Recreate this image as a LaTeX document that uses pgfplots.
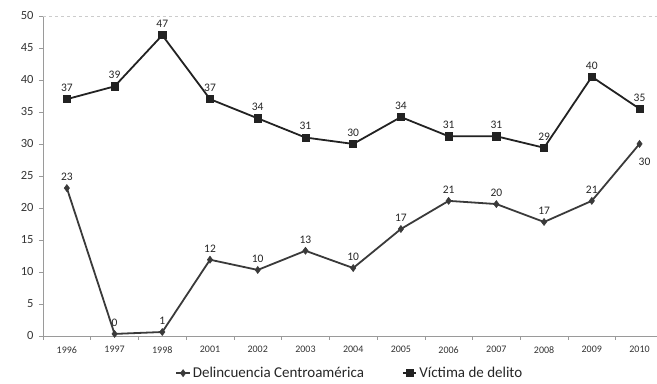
\documentclass[border=0pt]{standalone}
\usepackage{pgfplots}
\pgfplotsset{compat=1.18}
\usepackage{pgfplotstable}
\usepackage{fontspec}
\setmainfont{Carlito}

\definecolor{linedark}{HTML}{222222}
\definecolor{linegray}{HTML}{3A3A3A}
\definecolor{axisgray}{HTML}{9A9A9A}

% x = category index (0 = 1996 ... 12 = 2010)
\pgfplotstableread{
x y lab
0 23.1 23
1 0.3 0
2 0.6 1
3 11.9 12
4 10.3 10
5 13.3 13
6 10.6 10
7 16.7 17
8 21.1 21
9 20.6 20
10 17.8 17
11 21.1 21
12 30.0 30
}\delincuencia

\pgfplotstableread{
x y lab
0 37.0 37
1 39.0 39
2 47.0 47
3 37.0 37
4 34.0 34
5 31.0 31
6 30.0 30
7 34.2 34
8 31.2 31
9 31.2 31
10 29.4 29
11 40.5 40
12 35.5 35
}\victima

\begin{document}
\begin{tikzpicture}
\begin{axis}[
    name=ax,
    scale only axis,
    width=614pt, height=320pt,
    xmin=-0.5, xmax=12.36,
    ymin=0, ymax=50,
    axis x line*=bottom,
    axis y line*=left,
    axis line style={axisgray, line width=0.6pt},
    xtick={0,...,12},
    xticklabels={1996,1997,1998,2001,2002,2003,2004,2005,2006,2007,2008,2009,2010},
    minor xtick={-0.5,0.5,...,11.5},
    x tick style={draw=none},
    minor x tick style={draw=axisgray, line width=0.5pt},
    minor tick length=4pt,
    ytick={0,5,...,50},
    y tick style={axisgray, line width=0.5pt},
    major tick length=4pt,
    tick align=outside,
    x tick label style={font=\fontsize{10}{11}\selectfont, text=black!80, yshift=-3pt},
    y tick label style={font=\fontsize{12.5}{14}\selectfont, text=black!80, xshift=-2pt},
    /pgf/number format/assume math mode=true,
    extra y ticks={50},
    extra y tick labels={},
    extra y tick style={grid=major, major grid style={black!20, dashed}, tick style={draw=none}},
    nodes near coords={\pgfplotspointmeta},
    point meta=explicit symbolic,
    every node near coord/.append style={font=\fontsize{11.5}{12}\selectfont, text=black!85, yshift=4pt},
    legend style={at={(0.5,-0.085)}, anchor=north, draw=none, legend columns=2,
        font=\fontsize{15}{17}\selectfont, text=black!85,
        /tikz/every even column/.append style={column sep=36pt}},
    legend image code/.code={%
        \draw[mark repeat=2, mark phase=2] plot coordinates {(0cm,0cm) (0.24cm,0cm) (0.48cm,0cm)};},
    legend cell align=left,
    clip=false,
]
\addplot[linegray, line width=1.8pt, mark=diamond*, mark size=3.5pt,
    mark options={fill=linegray, draw=linegray, line width=0.6pt},
    coordinate style/.condition={\coordindex==12}{anchor=north, yshift=-14pt, xshift=5pt}]
    table[x=x, y=y, meta=lab] {\delincuencia};
\addlegendentry{Delincuencia Centroamérica}
\addplot[linedark, line width=1.8pt, mark=square*, mark size=3.6pt,
    mark options={fill=linedark, draw=linedark, line width=0.6pt}]
    table[x=x, y=y, meta=lab] {\victima};
\addlegendentry{Víctima de delito}
\end{axis}
\path (ax.north west) ++(-43pt,16pt);
\end{tikzpicture}
\end{document}
